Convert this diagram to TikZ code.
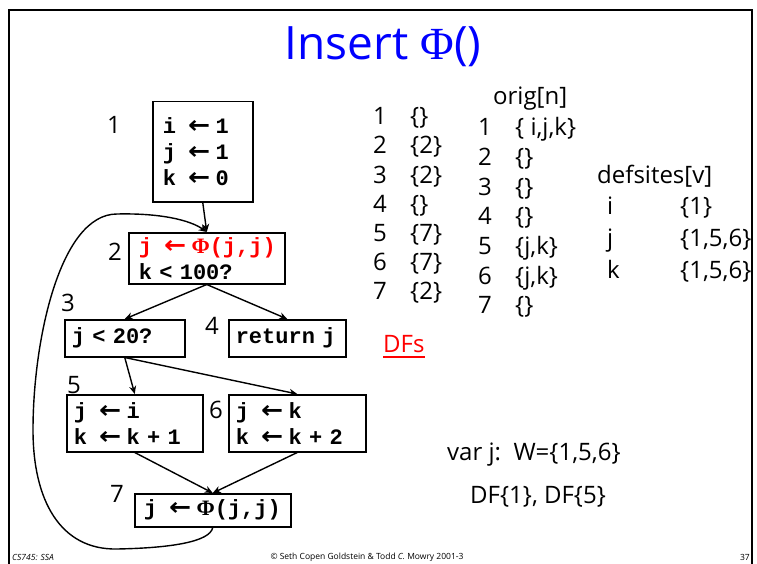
\documentclass[tikz,border=0pt]{standalone}
\usepackage{fontspec}
\setmainfont{Open Sans}
\newfontfamily\codefont{Liberation Mono}
\newfontfamily\phifont{Liberation Serif}
\newfontfamily\arrowfont{DejaVu Sans}
\usepackage{xcolor}
\usepackage{tikz}
\usetikzlibrary{arrows.meta}
\newcommand{\phisym}{{\phifont Φ}}
\newcommand{\msp}{\makebox[0.6em]{}}
\newcommand{\la}{\msp\makebox[0.6em][l]{\hspace{-1pt}\arrowfont\scalebox{1.2}[1.1]{←}}\msp}
\newcommand{\codestyle}{\codefont\bfseries\fontsize{22}{26}\selectfont
  \spaceskip=13.2pt plus 0pt minus 0pt\relax}

\begin{document}
\begin{tikzpicture}[x=1pt,y=-1pt,>={Stealth[length=8pt,width=7pt]},
  blk/.style={draw,line width=1.5pt,anchor=north west,align=left,inner ysep=0pt,
              font=\codestyle},
  num/.style={font=\fontsize{24}{28}\selectfont,anchor=base west,inner sep=0pt},
  lbl/.style={font=\fontsize{24}{28}\selectfont,inner sep=0pt},
  edge/.style={->,line width=1.4pt},
  foot/.style={font=\fontsize{8.5}{10}\selectfont,inner sep=0pt}]
  \useasboundingbox (0,0) rectangle (757,564);
  \draw[line width=2pt] (9,564) -- (9,10) -- (752,10) -- (752,564);

  \node[font=\fontsize{46}{52}\selectfont,text=blue] (title) at (383,47) {Insert \phisym()};

  % control flow graph
  \node[blk,text width=80pt,inner xsep=10pt,minimum height=100pt] (b1) at (152,101)
    {i\la 1\\j\la 1\\k\la 0};
  \node[blk,text width=136pt,inner xsep=10pt,minimum height=51pt] (b2) at (128,232)
    {\textcolor{red}{j\la\phisym(j,j)}\\k < 100?};
  \node[blk,text width=106pt,inner xsep=7pt,minimum height=37pt] (b3) at (64,319) {j < 20?};
  \node[blk,text width=103pt,inner xsep=7pt,minimum height=37pt] (b4) at (228,319) {return j};
  \node[blk,text width=122pt,inner xsep=7pt,minimum height=57pt] (b5) at (66,394)
    {j\la i\\k\la k + 1};
  \node[blk,text width=123pt,inner xsep=7pt,minimum height=57pt] (b6) at (228,394)
    {j\la k\\k\la k + 2};
  \node[blk,text width=138pt,inner xsep=9pt,minimum height=33pt] (b7) at (134,493)
    {j\la\phisym(j,j)};

  \node[lbl] (l1) at (114,125) {1};
  \node[lbl] (l2) at (115,252) {2};
  \node[lbl] (l3) at (68,303) {3};
  \node[lbl] (l4) at (212,326) {4};
  \node[lbl] (l5) at (74,385) {5};
  \node[lbl] (l6) at (216,410) {6};
  \node[lbl] (l7) at (117,494) {7};

  \draw[edge] (b1.south) -- (b2.north);
  \draw[edge] (b2.south) -- (b3.north);
  \draw[edge] (b2.south) -- (b4.north);
  \draw[edge] (b3.south) -- (b5.north);
  \draw[edge] (b3.south) -- (b6.north);
  \draw[edge] (b5.south) -- (b7.north);
  \draw[edge] (b6.south) -- (b7.north);
  % back edge 7 -> 2
  \draw[edge] (b7.south) .. controls (210,542) and (170,548) .. (117,549)
    .. controls (60,550) and (33,500) .. (33,430)
    .. controls (33,340) and (60,214) .. (117,214)
    .. controls (160,213) and (190,220) .. (b2.north);

  % dominance frontiers
  \foreach \n/\s [count=\r from 0] in {1/\{\},2/\{2\},3/\{2\},4/\{\},5/\{7\},6/\{7\},7/\{2\}}{
    \node[num] (dn\n) at (373,125+29*\r) {\n};
    \node[num] (ds\n) at (410,125+29*\r) {\s};
  }
  \node[num,text=red] (dfs) at (383,352) {DFs};
  \draw[red,line width=1.6pt] ([yshift=-5pt]dfs.base west) -- ([yshift=-5pt]dfs.base east);

  % orig
  \node[num] (orig) at (493,105) {orig[n]};
  \foreach \n/\s [count=\r from 0] in {1/{\{ i,j,k\}},2/\{\},3/\{\},4/\{\},5/{\{j,k\}},6/{\{j,k\}},7/\{\}}{
    \node[num] (on\n) at (478,136+29.6*\r) {\n};
    \node[num] (os\n) at (515,136+29.6*\r) {\s};
  }

  % defsites
  \node[num] (defs) at (597,183) {defsites[v]};
  \foreach \v/\s [count=\r from 0] in {i/\{1\},j/{\{1,5,6\}},k/{\{1,5,6\}}}{
    \node[num] (dv\v) at (607,214+32*\r) {\v};
    \node[num] (dw\v) at (680,214+32*\r) {\s};
  }

  \node[num] (varj) at (447,460) {var j:\ \ W=\{1,5,6\}};
  \node[num] (dfj) at (470,503) {DF\{1\}, DF\{5\}};

  \node[foot,anchor=west] (course) at (12,557) {\itshape CS745: SSA};
  \node[foot] (copy) at (367,557) {© Seth Copen Goldstein \& Todd \textit{C.} Mowry 2001-3};
  \node[foot,anchor=east] (page) at (750,557) {37};
\end{tikzpicture}
\end{document}
